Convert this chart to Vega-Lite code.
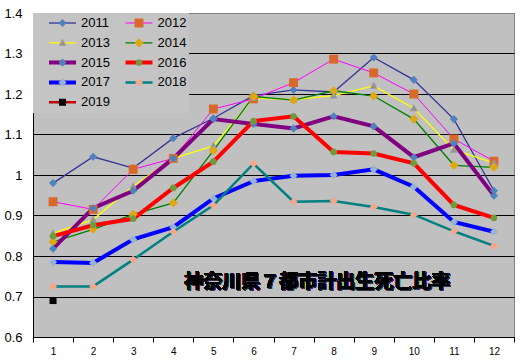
{
  "$schema": "https://vega.github.io/schema/vega-lite/v6.json",
  "autosize": {"type": "none"},
  "padding": {"left": 33, "top": 13, "right": 6, "bottom": 24},
  "width": 481,
  "height": 324,
  "background": "white",
  "config": {"view": {"fill": "#C0C0C0", "stroke": "#808080", "strokeWidth": 1}},
  "data": {"values": [
    {"year": 2011, "month": 1, "value": 0.980}, {"year": 2011, "month": 2, "value": 1.045}, {"year": 2011, "month": 3, "value": 1.017}, {"year": 2011, "month": 4, "value": 1.091}, {"year": 2011, "month": 5, "value": 1.140}, {"year": 2011, "month": 6, "value": 1.196}, {"year": 2011, "month": 7, "value": 1.210}, {"year": 2011, "month": 8, "value": 1.205}, {"year": 2011, "month": 9, "value": 1.290}, {"year": 2011, "month": 10, "value": 1.235}, {"year": 2011, "month": 11, "value": 1.138}, {"year": 2011, "month": 12, "value": 0.961},
    {"year": 2012, "month": 1, "value": 0.934}, {"year": 2012, "month": 2, "value": 0.915}, {"year": 2012, "month": 3, "value": 1.014}, {"year": 2012, "month": 4, "value": 1.041}, {"year": 2012, "month": 5, "value": 1.163}, {"year": 2012, "month": 6, "value": 1.188}, {"year": 2012, "month": 7, "value": 1.228}, {"year": 2012, "month": 8, "value": 1.286}, {"year": 2012, "month": 9, "value": 1.252}, {"year": 2012, "month": 10, "value": 1.200}, {"year": 2012, "month": 11, "value": 1.089}, {"year": 2012, "month": 12, "value": 1.034},
    {"year": 2013, "month": 1, "value": 0.856}, {"year": 2013, "month": 2, "value": 0.890}, {"year": 2013, "month": 3, "value": 0.972}, {"year": 2013, "month": 4, "value": 1.041}, {"year": 2013, "month": 5, "value": 1.072}, {"year": 2013, "month": 6, "value": 1.190}, {"year": 2013, "month": 7, "value": 1.186}, {"year": 2013, "month": 8, "value": 1.196}, {"year": 2013, "month": 9, "value": 1.220}, {"year": 2013, "month": 10, "value": 1.165}, {"year": 2013, "month": 11, "value": 1.062}, {"year": 2013, "month": 12, "value": 1.030},
    {"year": 2014, "month": 1, "value": 0.835}, {"year": 2014, "month": 2, "value": 0.866}, {"year": 2014, "month": 3, "value": 0.903}, {"year": 2014, "month": 4, "value": 0.931}, {"year": 2014, "month": 5, "value": 1.060}, {"year": 2014, "month": 6, "value": 1.194}, {"year": 2014, "month": 7, "value": 1.185}, {"year": 2014, "month": 8, "value": 1.208}, {"year": 2014, "month": 9, "value": 1.195}, {"year": 2014, "month": 10, "value": 1.138}, {"year": 2014, "month": 11, "value": 1.024}, {"year": 2014, "month": 12, "value": 1.019},
    {"year": 2015, "month": 1, "value": 0.818}, {"year": 2015, "month": 2, "value": 0.918}, {"year": 2015, "month": 3, "value": 0.961}, {"year": 2015, "month": 4, "value": 1.041}, {"year": 2015, "month": 5, "value": 1.138}, {"year": 2015, "month": 6, "value": 1.126}, {"year": 2015, "month": 7, "value": 1.115}, {"year": 2015, "month": 8, "value": 1.145}, {"year": 2015, "month": 9, "value": 1.120}, {"year": 2015, "month": 10, "value": 1.044}, {"year": 2015, "month": 11, "value": 1.078}, {"year": 2015, "month": 12, "value": 0.949},
    {"year": 2016, "month": 1, "value": 0.849}, {"year": 2016, "month": 2, "value": 0.876}, {"year": 2016, "month": 3, "value": 0.892}, {"year": 2016, "month": 4, "value": 0.968}, {"year": 2016, "month": 5, "value": 1.033}, {"year": 2016, "month": 6, "value": 1.133}, {"year": 2016, "month": 7, "value": 1.145}, {"year": 2016, "month": 8, "value": 1.057}, {"year": 2016, "month": 9, "value": 1.053}, {"year": 2016, "month": 10, "value": 1.029}, {"year": 2016, "month": 11, "value": 0.926}, {"year": 2016, "month": 12, "value": 0.894},
    {"year": 2017, "month": 1, "value": 0.785}, {"year": 2017, "month": 2, "value": 0.783}, {"year": 2017, "month": 3, "value": 0.841}, {"year": 2017, "month": 4, "value": 0.871}, {"year": 2017, "month": 5, "value": 0.942}, {"year": 2017, "month": 6, "value": 0.985}, {"year": 2017, "month": 7, "value": 0.998}, {"year": 2017, "month": 8, "value": 1.000}, {"year": 2017, "month": 9, "value": 1.014}, {"year": 2017, "month": 10, "value": 0.971}, {"year": 2017, "month": 11, "value": 0.884}, {"year": 2017, "month": 12, "value": 0.860},
    {"year": 2018, "month": 1, "value": 0.725}, {"year": 2018, "month": 2, "value": 0.725}, {"year": 2018, "month": 3, "value": 0.791}, {"year": 2018, "month": 4, "value": 0.860}, {"year": 2018, "month": 5, "value": 0.925}, {"year": 2018, "month": 6, "value": 1.028}, {"year": 2018, "month": 7, "value": 0.934}, {"year": 2018, "month": 8, "value": 0.936}, {"year": 2018, "month": 9, "value": 0.921}, {"year": 2018, "month": 10, "value": 0.902}, {"year": 2018, "month": 11, "value": 0.861}, {"year": 2018, "month": 12, "value": 0.825},
    {"year": 2019, "month": 1, "value": 0.690}
  ]},
  "encoding": {
    "x": {"field": "month", "type": "quantitative",
      "scale": {"domain": [0.5, 12.5], "nice": false, "zero": false},
      "axis": {"title": null, "grid": false,
        "values": [0.5, 1, 1.5, 2, 2.5, 3, 3.5, 4, 4.5, 5, 5.5, 6, 6.5, 7, 7.5, 8, 8.5, 9, 9.5, 10, 10.5, 11, 11.5, 12, 12.5],
        "labelExpr": "datum.value % 1 === 0 ? '' + datum.value : ''",
        "tickOpacity": {"condition": {"test": "datum.value % 1 === 0", "value": 0}, "value": 1},
        "domainColor": "black", "tickColor": "black", "tickSize": 5, "labelPadding": 4,
        "labelFont": "Liberation Sans", "labelFontSize": 10, "labelColor": "black",
        "labelOverlap": false, "labelFlush": false, "labelBound": false}},
    "y": {"field": "value", "type": "quantitative",
      "scale": {"domain": [0.6, 1.4], "nice": false, "zero": false},
      "axis": {"title": null, "values": [0.6, 0.7, 0.8, 0.9, 1.0, 1.1, 1.2, 1.3, 1.4], "format": "~g",
        "ticks": false, "domainColor": "black",
        "gridColor": {"condition": {"test": "datum.value > 1.35", "value": "#808080"}, "value": "black"},
        "gridOpacity": 1, "gridWidth": 1,
        "labelFont": "Liberation Sans", "labelFontSize": 13, "labelColor": "black", "labelPadding": 11,
        "labelOverlap": false, "labelFlush": false}}
  },
  "layer": [
    {
      "mark": {"type": "line"},
      "encoding": {
        "stroke": {"field": "year", "type": "nominal",
          "scale": {"domain": [2011, 2012, 2013, 2014, 2015, 2016, 2017, 2018, 2019],
                    "range": ["#333399", "#FF00FF", "#FFFF00", "#008000", "#800080", "#FF0000", "#0000FF", "#008080", "#C00000"]},
          "legend": {"title": null, "orient": "none", "legendX": 0, "legendY": 0, "columns": 2, "direction": "horizontal",
            "symbolType": "stroke", "symbolSize": 729, "clipHeight": 16, "rowPadding": 3.8, "columnPadding": 1.5,
            "padding": 2, "symbolOffset": 12, "labelOffset": 3,
            "labelFont": "Liberation Sans", "labelFontSize": 13, "labelColor": "black",
            "fillColor": "#C4C4C4", "zindex": 0}},
        "strokeWidth": {"field": "year", "type": "nominal",
          "scale": {"type": "ordinal", "domain": [2011, 2012, 2013, 2014, 2015, 2016, 2017, 2018, 2019],
                    "range": [1.3, 1, 1.3, 1.3, 4, 4, 4, 2.5, 2.5]},
          "legend": {"title": null, "orient": "none", "legendX": 0, "legendY": 0, "columns": 2, "direction": "horizontal",
            "symbolType": "stroke", "symbolSize": 729, "clipHeight": 16, "rowPadding": 3.8, "columnPadding": 1.5,
            "padding": 2, "symbolOffset": 12, "labelOffset": 3,
            "labelFont": "Liberation Sans", "labelFontSize": 13, "labelColor": "black",
            "fillColor": "#C4C4C4", "zindex": 0}}
      }
    },
    {
      "mark": {"type": "point", "filled": true, "size": 729, "opacity": 1, "strokeWidth": 0},
      "encoding": {
        "shape": {"field": "year", "type": "nominal",
          "scale": {"range": [
            "M0,-0.3L0.3,0L0,0.3L-0.3,0Z",
            "M-0.33,-0.33H0.33V0.33H-0.33Z",
            "M0,-0.3L0.28,0.22H-0.28Z",
            "M0,-0.34L0.34,0L0,0.34L-0.34,0Z",
            "M0,-0.3L0.3,0L0,0.3L-0.3,0Z",
            "M0.25,0A0.25,0.25,0,1,1,-0.25,0A0.25,0.25,0,1,1,0.25,0Z",
            "M0,-0.3L0.3,0L0,0.3L-0.3,0Z",
            "M0,-0.3L0.3,0L0,0.3L-0.3,0Z",
            "M-0.26,-0.26H0.26V0.26H-0.26Z"]},
          "legend": {"title": null, "orient": "none", "legendX": 0, "legendY": 0, "columns": 2, "direction": "horizontal",
            "symbolSize": 729, "clipHeight": 16, "rowPadding": 3.8, "columnPadding": 1.5,
            "padding": 2, "symbolOffset": 12, "labelOffset": 3, "symbolStrokeWidth": 4, "symbolStrokeColor": "transparent",
            "labelFont": "Liberation Sans", "labelFontSize": 13, "labelColor": "transparent",
            "zindex": 1}},
        "fill": {"field": "year", "type": "nominal",
          "scale": {"range": ["#4F81BD", "#D9692B", "#959595", "#E0A810", "#4F81BD", "#6E9B3C", "#95B3D7", "#F4A78A", "#000000"]},
          "legend": {"title": null, "orient": "none", "legendX": 0, "legendY": 0, "columns": 2, "direction": "horizontal",
            "symbolSize": 729, "clipHeight": 16, "rowPadding": 3.8, "columnPadding": 1.5,
            "padding": 2, "symbolOffset": 12, "labelOffset": 3, "symbolStrokeWidth": 4, "symbolStrokeColor": "transparent",
            "labelFont": "Liberation Sans", "labelFontSize": 13, "labelColor": "transparent",
            "zindex": 1}}
      }
    },
    {
      "mark": {"type": "text", "font": "Noto Sans CJK JP", "fontWeight": "bold", "fontSize": 19, "color": "#303050", "dx": 1, "dy": 1, "align": "center", "baseline": "middle"},
      "encoding": {"x": {"datum": 7.59}, "y": {"datum": 0.736}, "text": {"value": "神奈川県７都市計出生死亡比率"}}
    },
    {
      "mark": {"type": "text", "font": "Noto Sans CJK JP", "fontWeight": "bold", "fontSize": 19, "color": "black", "align": "center", "baseline": "middle"},
      "encoding": {"x": {"datum": 7.59}, "y": {"datum": 0.736}, "text": {"value": "神奈川県７都市計出生死亡比率"}}
    }
  ]
}
